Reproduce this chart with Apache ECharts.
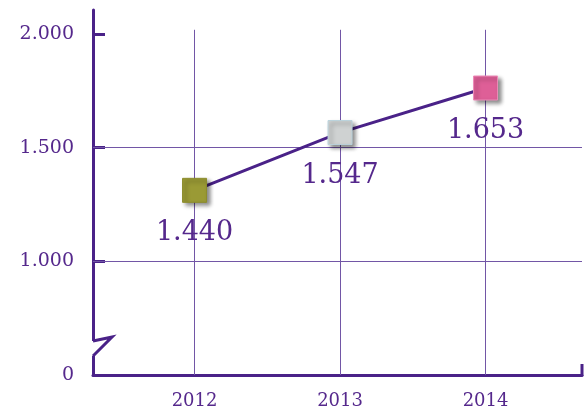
<!DOCTYPE html>
<html>
<head>
<meta charset="utf-8">
<script src="https://cdn.jsdelivr.net/npm/echarts@6/dist/echarts.min.js"></script>
<style>
  html, body { margin: 0; padding: 0; background: #fff; }
  #main { width: 587px; height: 413px; }
</style>
</head>
<body>
<div id="main"></div>
<script>
var years = [2012, 2013, 2014];
// where the squares sit on the (broken) axis
var markerLevels = [1312, 1566, 1762];
// the numbers printed under the squares
var valueLabels = ['1.440', '1.547', '1.653'];
var markerColors = ['#9a9a35', '#cfd2d2', '#de5f97'];
var markerBorders = ['#8c8c2c', '#b9d3dc', '#ec8cb8'];
var yTicks = [500, 1000, 1500, 2000];   // 500 is drawn as "0" (axis break)
var yGridLevels = [1000, 1500];

var axisColor = '#4a2288';
var textColor = '#55288c';
var gridColor = '#7256a6';
var fontFam = '"DejaVu Serif", serif';

var xMin = 2011.302, xMax = 2014.663;

var app = echarts.init(document.getElementById('main'));

var points = [];
for (var i = 0; i < years.length; i++) {
    points.push({
        value: [years[i], markerLevels[i]],
        label: { formatter: valueLabels[i] },
        itemStyle: { color: markerColors[i], borderColor: markerBorders[i] }
    });
}

var gridLines = [];
for (var i = 0; i < years.length; i++) {
    gridLines.push([{ coord: [years[i], 500] }, { coord: [years[i], 2018] }]);
}
for (var j = 0; j < yGridLevels.length; j++) {
    gridLines.push([{ coord: [xMin, yGridLevels[j]] }, { coord: [xMax, yGridLevels[j]] }]);
}

option = {
    animation: false,
    grid: { left: 93, right: 5, top: 10, bottom: 38 },
    xAxis: {
        type: 'value',
        min: xMin,
        max: xMax,
        axisLine: { show: true, lineStyle: { color: axisColor, width: 3 } },
        axisTick: { show: false },
        splitLine: { show: false },
        axisLabel: {
            customValues: years,
            color: textColor,
            fontFamily: fontFam,
            fontSize: 18,
            margin: 17,
            formatter: function (v) { return String(v); }
        }
    },
    yAxis: {
        type: 'value',
        min: 500,
        max: 2105,
        axisLine: { show: true, lineStyle: { color: axisColor, width: 3 } },
        axisTick: {
            show: true,
            inside: true,
            length: 12,
            customValues: [1000, 1500, 2000],
            lineStyle: { color: axisColor, width: 3 }
        },
        splitLine: { show: false },
        axisLabel: {
            customValues: yTicks,
            color: textColor,
            fontFamily: fontFam,
            fontSize: 19,
            margin: 19,
            formatter: function (v) {
                if (v == 500) return '0';
                return (v / 1000).toFixed(3);
            }
        }
    },
    series: [
        {
            type: 'line',
            data: points,
            symbol: 'rect',
            symbolSize: 24,
            z: 5,
            lineStyle: { color: axisColor, width: 3 },
            itemStyle: {
                borderWidth: 1,
                shadowBlur: 4,
                shadowOffsetX: 3,
                shadowOffsetY: 3,
                shadowColor: 'rgba(0,0,0,0.45)'
            },
            label: {
                show: true,
                position: 'bottom',
                distance: 17,
                color: textColor,
                fontFamily: fontFam,
                fontSize: 27
            },
            emphasis: { disabled: true },
            markLine: {
                silent: true,
                symbol: 'none',
                z: 1,
                label: { show: false },
                lineStyle: { color: gridColor, width: 1, type: 'solid' },
                emphasis: { disabled: true },
                data: gridLines
            }
        }
    ],
    graphic: [
        // axis break on the y axis
        { type: 'rect', shape: { x: 90, y: 341, width: 7, height: 15 }, style: { fill: '#fff' }, z: 100 },
        { type: 'polyline', shape: { points: [[93, 341], [112, 337], [93, 356]] },
          style: { stroke: axisColor, lineWidth: 3, fill: null }, z: 101 },
        // end stub of the x axis
        { type: 'line', shape: { x1: 582, y1: 364, x2: 582, y2: 376 },
          style: { stroke: axisColor, lineWidth: 3 }, z: 101 }
    ]
};

app.setOption(option);
</script>
</body>
</html>
